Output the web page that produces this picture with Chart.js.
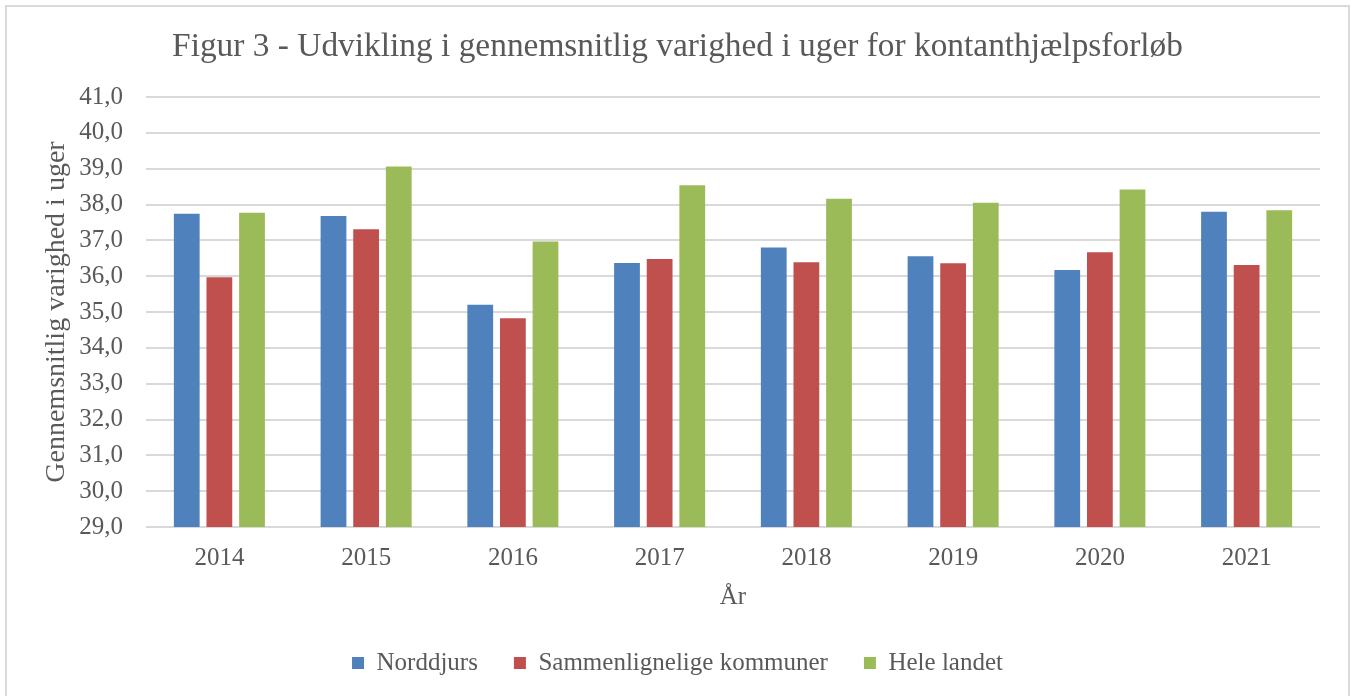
<!DOCTYPE html>
<html>
<head>
<meta charset="utf-8">
<script src="https://cdn.jsdelivr.net/npm/chart.js@4"></script>
<style>
  html, body { margin: 0; padding: 0; background: #ffffff; overflow: hidden; }
  #wrap { position: relative; width: 1355px; height: 696px; }
  #frame { position: absolute; left: 5px; top: 5px; width: 1341px; height: 720px; border: 2px solid #d9d9d9; box-sizing: content-box; }
  canvas { position: absolute; left: 0; top: 0; }
</style>
</head>
<body>
<div id="wrap">
  <div id="frame"></div>
  <canvas id="c" width="1355" height="696"></canvas>
</div>
<script>
const categories = ['2014', '2015', '2016', '2017', '2018', '2019', '2020', '2021'];
const seriesNames = ['Norddjurs', 'Sammenlignelige kommuner', 'Hele landet'];
const norddjurs = [37.74, 37.68, 35.20, 36.37, 36.80, 36.56, 36.17, 37.80];
const sammenlignelige = [35.97, 37.31, 34.83, 36.48, 36.39, 36.36, 36.67, 36.31];
const heleLandet = [37.77, 39.06, 36.97, 38.54, 38.16, 38.05, 38.42, 37.84];
const yTickLabels = ['29,0', '30,0', '31,0', '32,0', '33,0', '34,0', '35,0', '36,0', '37,0', '38,0', '39,0', '40,0', '41,0'];
const titleText = 'Figur 3 - Udvikling i gennemsnitlig varighed i uger for kontanthjælpsforløb';
const yAxisTitle = 'Gennemsnitlig varighed i uger';
const xAxisTitle = 'År';

const FONT = "'Liberation Serif', 'Times New Roman', serif";
const TXT = '#595959';
const colors = ['#4F81BD', '#C0504D', '#9BBB59'];
const seriesData = [norddjurs, sammenlignelige, heleLandet];

new Chart(document.getElementById('c'), {
  type: 'bar',
  data: {
    labels: categories,
    datasets: seriesNames.map((name, i) => ({
      label: name,
      data: seriesData[i],
      backgroundColor: colors[i],
      borderWidth: 0,
      categoryPercentage: 0.667,
      barPercentage: 0.79,
      yAxisID: 'y'
    }))
  },
  options: {
    responsive: false,
    animation: false,
    devicePixelRatio: 1,
    layout: { padding: { left: 0, right: 0, top: 0, bottom: 10.5 } },
    plugins: {
      title: {
        display: true,
        text: titleText,
        color: TXT,
        font: { family: FONT, size: 33.4, weight: 'normal', lineHeight: 1.2 },
        padding: { top: 27, bottom: 30 }
      },
      legend: {
        position: 'bottom',
        labels: {
          color: TXT,
          font: { family: FONT, size: 25 },
          boxWidth: 12,
          boxHeight: 12,
          padding: 36
        }
      },
      tooltip: { enabled: false }
    },
    scales: {
      x: {
        grid: { display: false, drawTicks: false },
        border: { display: false },
        ticks: { color: TXT, font: { family: FONT, size: 25 }, padding: 16 },
        title: {
          display: true, text: xAxisTitle, color: TXT,
          font: { family: FONT, size: 25, lineHeight: 1.2 },
          padding: { top: 0, bottom: 2.5 }
        },
        afterFit: (s) => { s.height = 87.5; }
      },
      y: {
        position: 'left',
        min: 29, max: 41,
        grid: { color: '#d9d9d9', lineWidth: 2, drawTicks: false },
        border: { display: false },
        ticks: {
          stepSize: 1, color: TXT, font: { family: FONT, size: 25 }, padding: 23,
          callback: (v, i) => yTickLabels[i]
        },
        title: {
          display: true, text: yAxisTitle, color: TXT,
          font: { family: FONT, size: 28, lineHeight: 1.2 },
          padding: { top: 40.2, bottom: 0 }
        },
        afterFit: (s) => { s.width = 146; }
      },
      yRight: {
        position: 'right',
        display: true,
        grid: { display: false },
        border: { display: false },
        ticks: { display: false },
        afterFit: (s) => { s.width = 35; }
      }
    }
  }
});
</script>
</body>
</html>
